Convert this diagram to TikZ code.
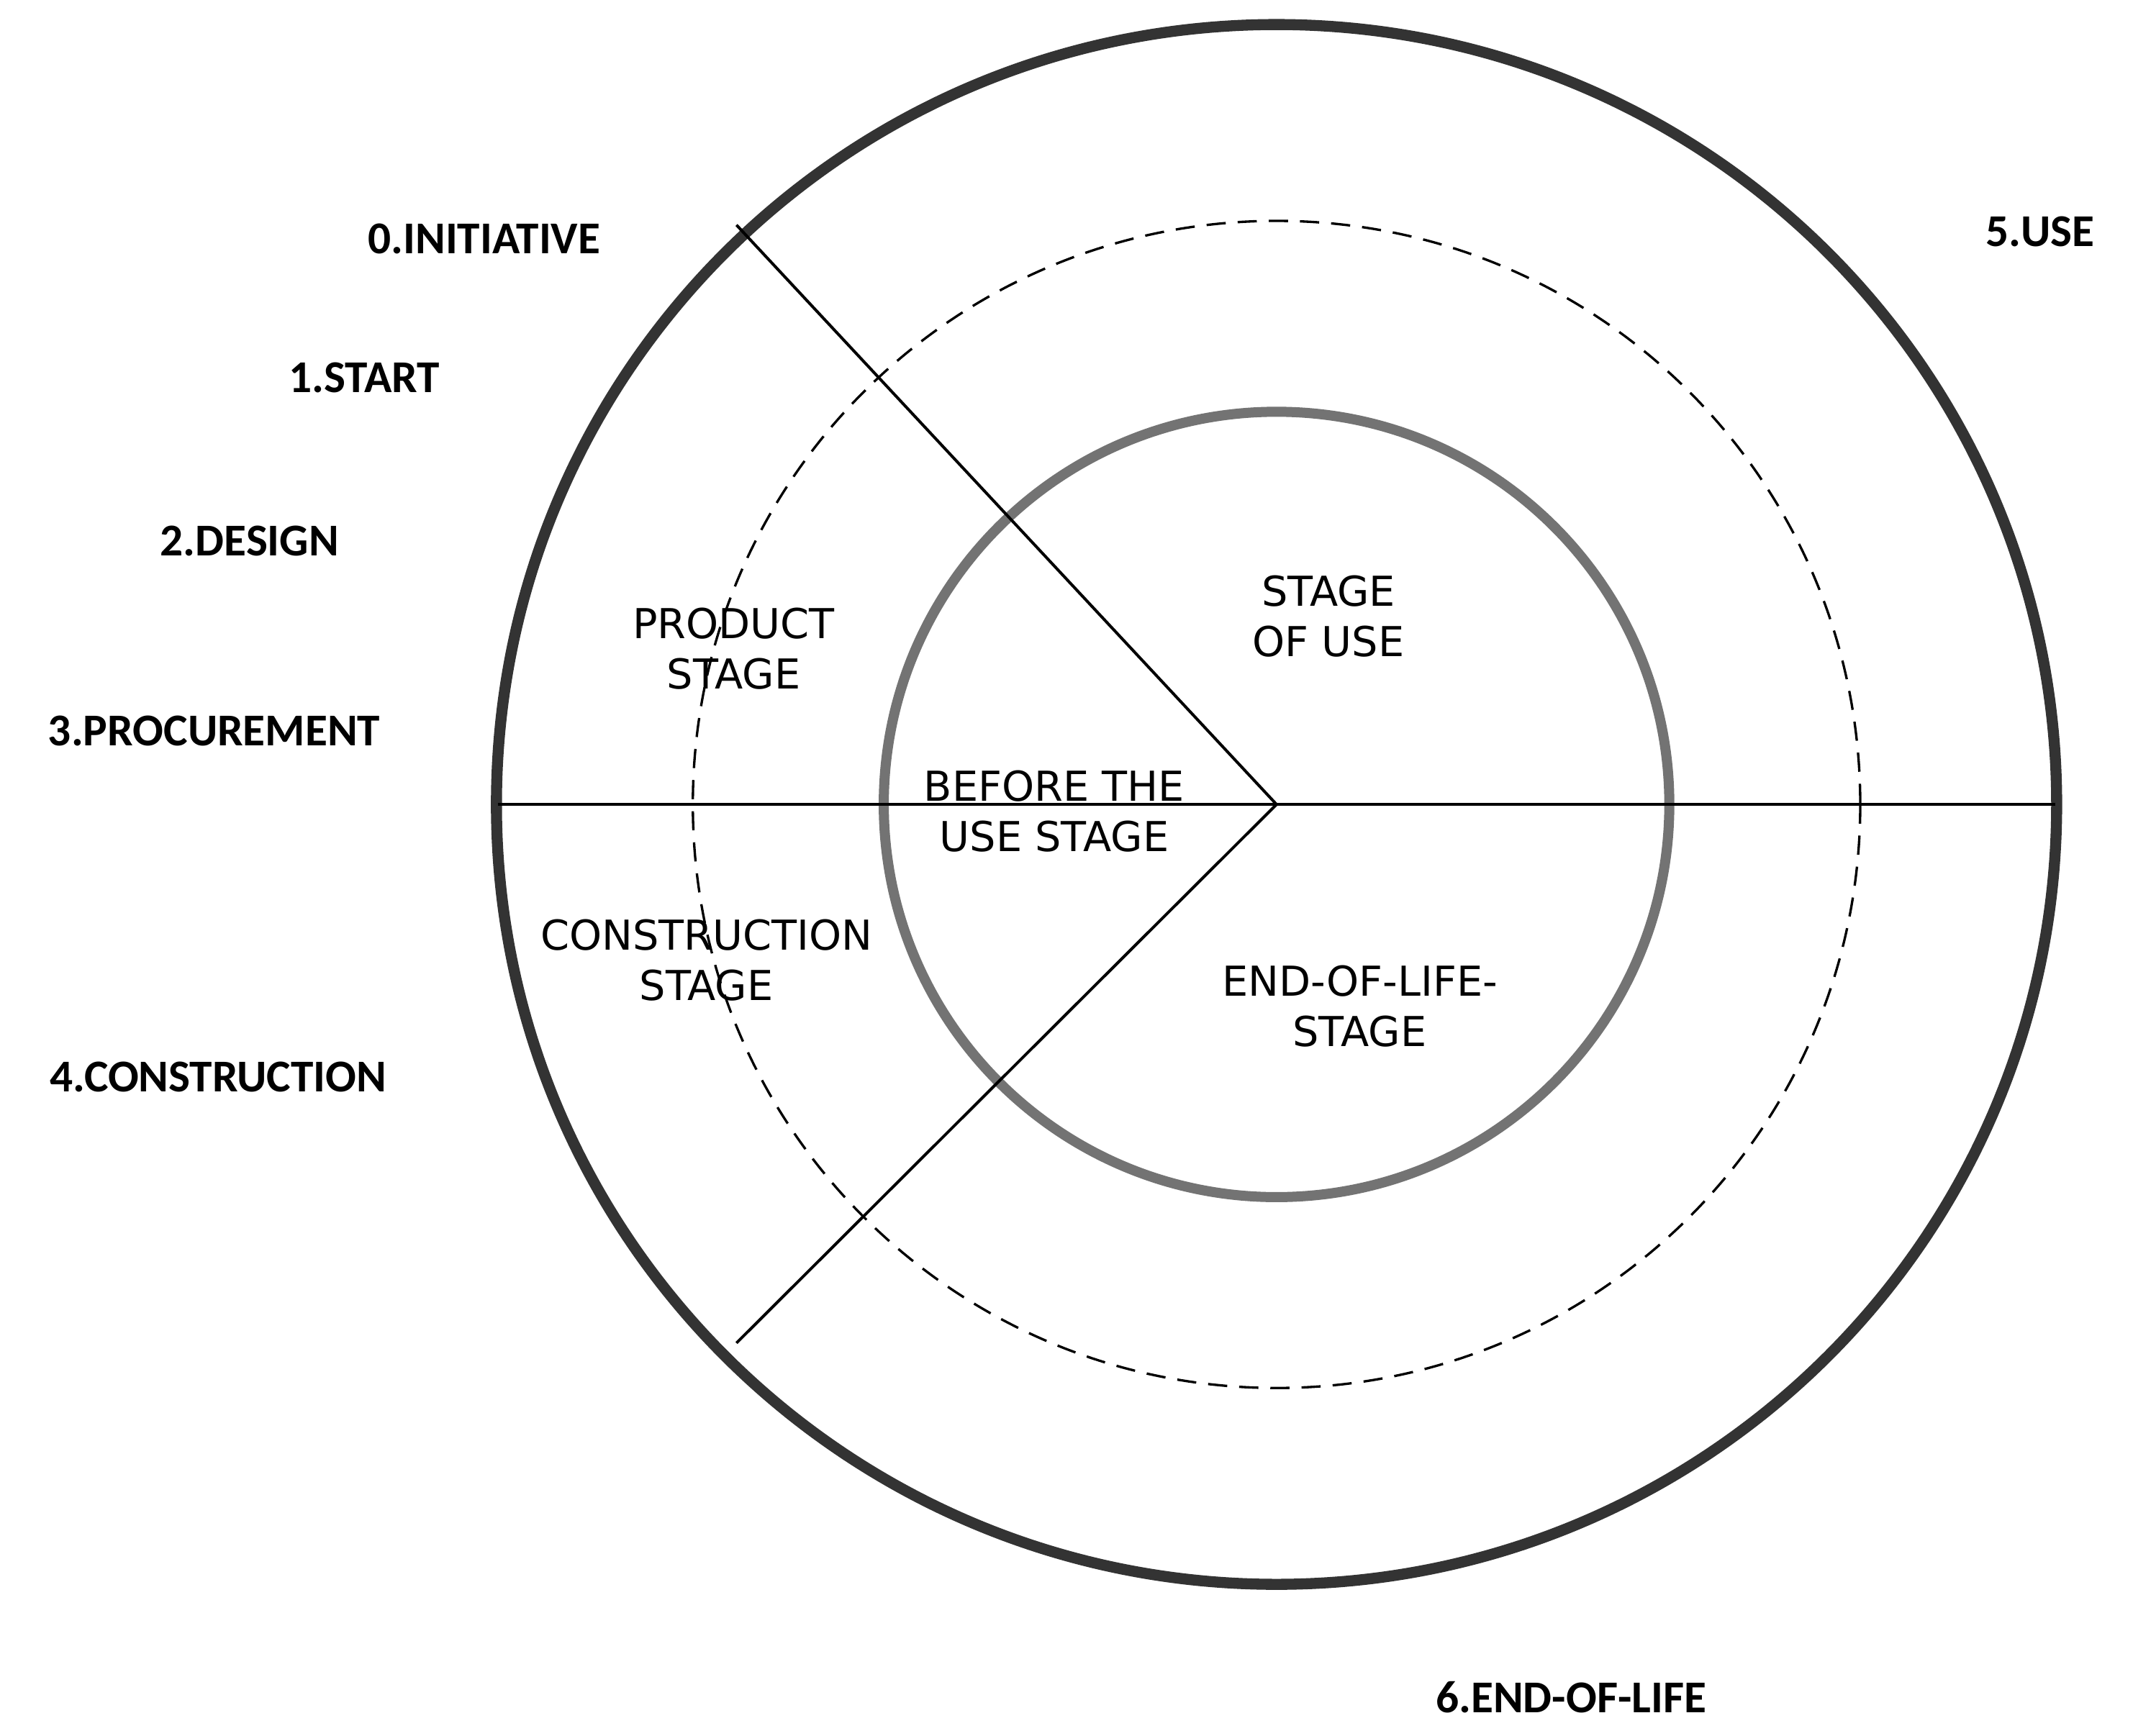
\documentclass[tikz,border=0pt]{standalone}
\usepackage{fontspec}
\setmainfont{Carlito}
\newfontfamily\innerfont{DejaVu Sans}
\begin{document}
\begin{tikzpicture}[x=0.01cm,y=-0.01cm,
  outer/.style={label font,font=\fontsize{9.5}{11}\selectfont\bfseries},
  inner/.style={font=\innerfont\fontsize{8.6}{10.5}\selectfont,align=center,inner sep=0pt}]
\tikzset{label font/.style={}}
\useasboundingbox[fill=white] (0,0) rectangle (1564,1273);
\coordinate (c) at (936,590);
\draw[line width=2.3pt,black!80] (c) circle[radius=572];
\draw[line width=0.5pt,dash pattern=on 4pt off 2.5pt] (c) circle[radius=428];
\draw[line width=2.1pt,black!55] (c) circle[radius=288];
\coordinate (l) at (365,590);
\coordinate (r) at (1507,590);
\coordinate (ul) at (540,165);
\coordinate (ll) at (540,985);
\draw[line width=0.6pt] (l) -- (r);
\draw[line width=0.6pt] (c) -- (ul);
\draw[line width=0.6pt] (c) -- (ll);
\node[outer] (n0) at (355,175) {0.INITIATIVE};
\node[outer] (n1) at (267,277) {1.START};
\node[outer] (n2) at (183,397) {2.DESIGN};
\node[outer] (n3) at (157,536) {3.PROCUREMENT};
\node[outer] (n4) at (160,790) {4.CONSTRUCTION};
\node[outer] (n5) at (1496,170) {5.USE};
\node[outer] (n6) at (1152,1245) {6.END-OF-LIFE};
\node[inner] (pr) at (538,476) {PRODUCT\\STAGE};
\node[inner] (su) at (974,452) {STAGE\\OF USE};
\node[inner] (bu) at (773,595) {BEFORE THE\\USE STAGE};
\node[inner] (cs) at (518,704) {CONSTRUCTION\\STAGE};
\node[inner] (el) at (997,738) {END-OF-LIFE-\\STAGE};
\end{tikzpicture}
\end{document}
